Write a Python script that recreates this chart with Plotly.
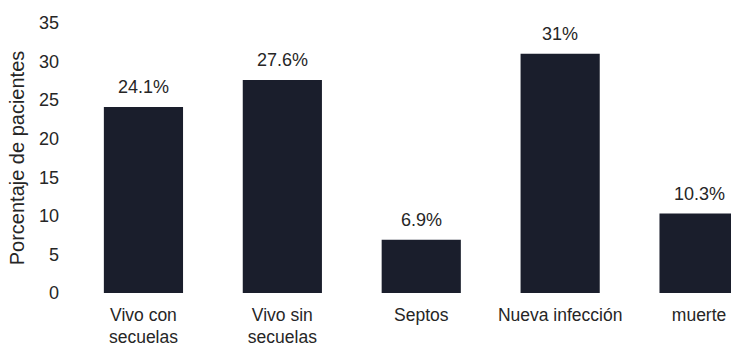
import plotly.graph_objects as go

categories = ["Vivo con<br>secuelas", "Vivo sin<br>secuelas", "Septos", "Nueva infección", "muerte"]
values = [24.1, 27.6, 6.9, 31, 10.3]
value_labels = ["24.1%", "27.6%", "6.9%", "31%", "10.3%"]
y_ticks = [0, 5, 10, 15, 20, 25, 30, 35]

FONT = "Liberation Sans, Arial, sans-serif"
TXT = "#262626"
BAR = "#1a1e2c"

fig = go.Figure()
fig.add_trace(go.Bar(
    x=categories, y=values,
    marker=dict(color=BAR, line=dict(width=0)),
    width=0.57,
    hoverinfo="skip",
))

for c, v, t in zip(categories, values, value_labels):
    fig.add_annotation(x=c, y=v, text=t, showarrow=False, yanchor="bottom",
                       yshift=8, font=dict(family=FONT, size=18, color=TXT))

fig.update_layout(
    width=731, height=347,
    margin=dict(l=74, r=0, t=23, b=54, autoexpand=False),
    paper_bgcolor="white", plot_bgcolor="white",
    showlegend=False,
    font=dict(family=FONT, size=18, color=TXT),
    xaxis=dict(
        type="category",
        range=[-0.5, 4.23],
        automargin=False,
        showgrid=False, zeroline=False, showline=False, ticks="",
        tickfont=dict(family=FONT, size=17.5, color=TXT),
        ticklabelstandoff=9,
    ),
    yaxis=dict(
        range=[0, 35],
        tickvals=y_ticks,
        automargin=False,
        showgrid=False, zeroline=False, showline=False, ticks="",
        tickfont=dict(family=FONT, size=18, color=TXT),
        ticklabelstandoff=14,
        title=dict(text="Porcentaje de pacientes", font=dict(family=FONT, size=20, color=TXT), standoff=8),
    ),
)

fig.write_html(
    "out.html",
    config={"displayModeBar": False},
    post_script="document.body.style.margin='0';document.body.style.overflow='hidden';",
)
